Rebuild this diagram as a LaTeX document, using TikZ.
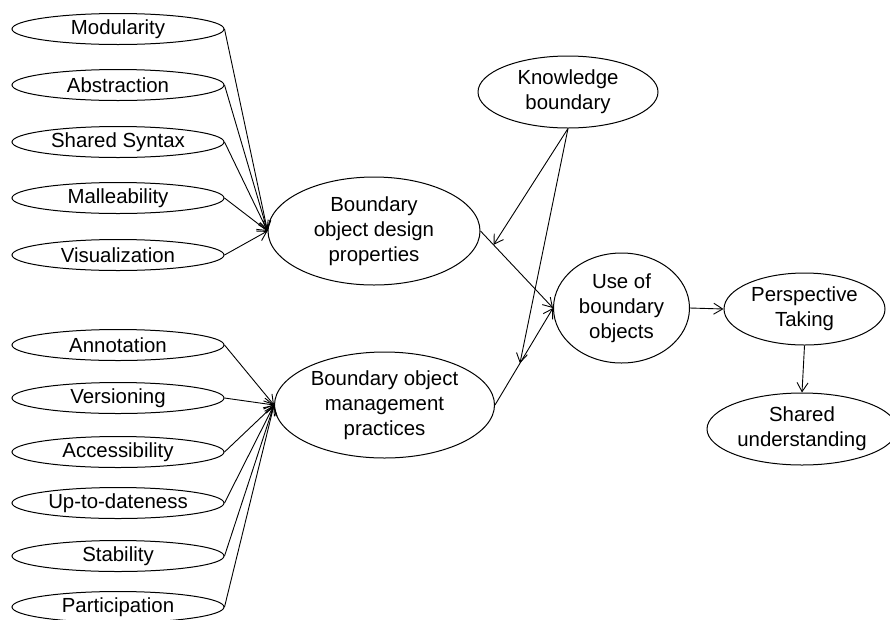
\documentclass[tikz,border=0pt]{standalone}
\usepackage{fontspec}
\setmainfont{Liberation Sans}
\usetikzlibrary{shapes.geometric,arrows.meta}
\begin{document}
\begin{tikzpicture}[x=1pt,y=-1pt,
  ell/.style={draw, ellipse, inner sep=0pt, line width=1pt},
  small/.style={ell, minimum width=212pt, minimum height=31pt},
  lab/.style={font=\fontsize{20.4}{25}\selectfont, align=center},
  arr/.style={-{Straight Barb[length=9pt,width=11pt]}, line width=0.9pt}]
\useasboundingbox (0,0) rectangle (890,619);
\clip (0,0) rectangle (890,619);

% design properties
\node[small, label={[lab]center:Modularity}]    (mod) at (118,29) {};
\node[small, label={[lab]center:Abstraction}]   (abs) at (118,85) {};
\node[small, label={[lab]center:Shared Syntax}] (syn) at (118,142) {};
\node[small, label={[lab]center:Malleability}]  (mal) at (118,198) {};
\node[small, label={[lab]center:Visualization}] (vis) at (118,255) {};

% management practices
\node[small, label={[lab]center:Annotation}]     (ann) at (118,345) {};
\node[small, label={[lab]center:Versioning}]     (ver) at (118,398) {};
\node[small, label={[lab]center:Accessibility}]  (acc) at (118,452) {};
\node[small, label={[lab]center:Up-to-dateness}] (upd) at (118,503) {};
\node[small, label={[lab]center:Stability}]      (sta) at (118,556) {};
\node[small, label={[lab]center:Participation}]  (par) at (118,607) {};

% constructs
\node[ell, minimum width=212pt, minimum height=108pt,
  label={[lab]center:{Boundary\\object design\\properties}}] (des) at (374,231) {};
\node[ell, minimum width=220pt, minimum height=106pt,
  label={[lab]center:{Boundary object\\management\\practices}}] (man) at (384.5,405) {};
\node[ell, minimum width=180pt, minimum height=72pt,
  label={[lab]center:{Knowledge\\boundary}}] (kb) at (568,92) {};
\node[ell, minimum width=136pt, minimum height=110pt,
  label={[lab]center:{Use of\\boundary\\objects}}] (use) at (621.5,308) {};
\node[ell, minimum width=161pt, minimum height=72pt,
  label={[lab]center:{Perspective\\Taking}}] (per) at (804.5,309) {};
\node[ell, minimum width=190pt, minimum height=72pt,
  label={[lab]center:{Shared\\understanding}}] (su) at (802,429) {};

% connectors
\foreach \n in {mod,abs,syn,mal,vis} \draw[arr] (\n.east) -- (des.west);
\foreach \n in {ann,ver,acc,upd,sta,par} \draw[arr] (\n.east) -- (man.west);
\draw[arr] (des.east) -- coordinate[pos=0.18] (m1) (use.west);
\draw[arr] (man.east) -- coordinate[pos=0.43] (m2) (use.west);
\draw[arr] (kb.south) -- (m1);
\draw[arr] (kb.south) -- (m2);
\draw[arr] (use.east) -- (per.west);
\draw[arr] (per.south) -- (su.north);
\end{tikzpicture}
\end{document}
